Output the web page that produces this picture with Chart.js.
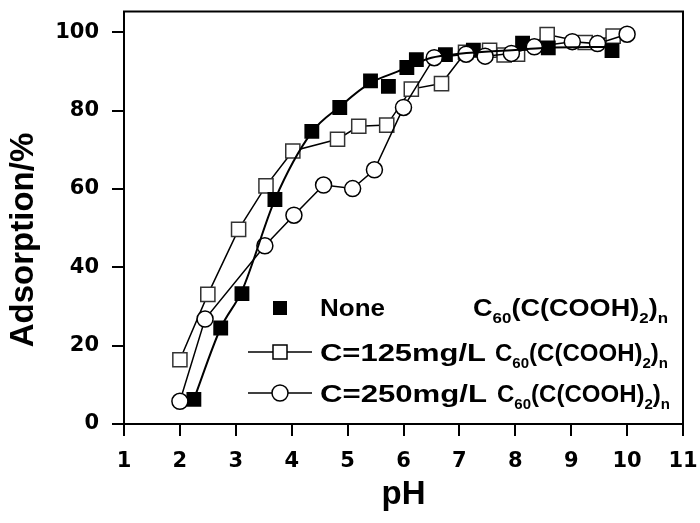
<!DOCTYPE html>
<html>
<head>
<meta charset="utf-8">
<script src="https://cdn.jsdelivr.net/npm/chart.js@4/dist/chart.umd.min.js"></script>
<style>
html,body{margin:0;padding:0;background:#fff;}
#wrap{width:700px;height:523px;position:relative;}
</style>
</head>
<body>
<div id="wrap"><canvas id="c" width="700" height="523"></canvas></div>
<script>
// ---- data ----
const phNone  = [2.25, 2.73, 3.11, 3.70, 4.36, 4.86, 5.41, 5.73, 6.06, 6.23, 6.75, 7.25, 8.13, 8.59, 9.73];
const adsNone = [6.3, 24.5, 33.3, 57.3, 74.7, 80.8, 87.6, 86.2, 91.0, 93.0, 94.3, 95.4, 97.2, 96.0, 95.3];

const ph125  = [2.00, 2.50, 3.05, 3.54, 4.02, 4.82, 5.20, 5.70, 6.14, 6.68, 7.11, 7.54, 7.80, 8.04, 8.57, 9.25, 9.75];
const ads125 = [16.4, 33.1, 49.7, 60.8, 69.7, 72.7, 76.0, 76.3, 85.5, 86.9, 94.9, 95.4, 94.2, 94.4, 99.4, 97.4, 99.0];

const ph250  = [2.00, 2.45, 3.52, 4.04, 4.57, 5.09, 5.48, 6.00, 6.55, 7.12, 7.46, 7.93, 8.34, 9.02, 9.47, 10.00];
const ads250 = [5.8, 26.8, 45.5, 53.3, 61.0, 60.1, 64.9, 80.8, 93.5, 94.4, 93.9, 94.6, 96.3, 97.6, 97.1, 99.5];

// smooth fitted curve through the "None" points
const phFit  = [2.25, 2.73, 3.11, 3.70, 4.36, 4.86, 5.40, 5.90, 6.50, 7.00, 8.00, 8.50, 9.73];
const adsFit = [6.3, 24.5, 34.0, 57.3, 74.5, 81.0, 87.0, 90.0, 93.5, 94.5, 95.5, 96.0, 96.3];

const xTicks = [1, 2, 3, 4, 5, 6, 7, 8, 9, 10, 11];
const yTicks = [0, 20, 40, 60, 80, 100];

const xTitle = 'pH';
const yTitle = 'Adsorption/%';
const legendLabels = ['None', 'C=125mg/L', 'C=250mg/L'];
// [text, isSubscript]
const formulaParts = [['C', 0], ['60', 1], ['(C(COOH)', 0], ['2', 1], [')', 0], ['n', 1]];

const toXY = (xs, ys) => xs.map((x, i) => ({ x: x, y: ys[i] }));

// ---- plugins ----
const framePlugin = {
  id: 'frame',
  afterDatasetsDraw(chart) {
    const { ctx, chartArea: a } = chart;
    ctx.save();
    ctx.strokeStyle = '#000';
    ctx.lineWidth = 2;
    ctx.strokeRect(a.left, a.top, a.right - a.left, a.bottom - a.top);
    ctx.restore();
  }
};

const yTitlePlugin = {
  id: 'yTitle',
  afterDraw(chart) {
    const ctx = chart.ctx;
    ctx.save();
    ctx.translate(33, 240);
    ctx.rotate(-Math.PI / 2);
    ctx.font = 'bold 33px "Liberation Sans", Arial, sans-serif';
    ctx.fillStyle = '#000';
    ctx.textAlign = 'center';
    ctx.textBaseline = 'alphabetic';
    ctx.fillText(yTitle, 0, 0);
    ctx.restore();
  }
};

const legendPlugin = {
  id: 'customLegend',
  afterDraw(chart) {
    const ctx = chart.ctx;
    const mainFont = 'bold 24px "Liberation Sans", Arial, sans-serif';
    const subFont = 'bold 15px "Liberation Sans", Arial, sans-serif';
    ctx.save();
    ctx.fillStyle = '#000';
    ctx.strokeStyle = '#000';
    ctx.textBaseline = 'alphabetic';
    ctx.textAlign = 'left';

    function drawParts(parts, x, base, targetW) {
      let w = 0;
      parts.forEach(p => { ctx.font = p[1] ? subFont : mainFont; w += ctx.measureText(p[0]).width; });
      const sx = targetW / w;
      ctx.save();
      ctx.translate(x, base);
      ctx.scale(sx, 1);
      let cx = 0;
      parts.forEach(p => {
        ctx.font = p[1] ? subFont : mainFont;
        ctx.fillText(p[0], cx, p[1] ? 7 : 0);
        cx += ctx.measureText(p[0]).width;
      });
      ctx.restore();
    }

    // row 1: filled square, no line
    ctx.fillRect(273, 301, 14, 14);
    // row 2: line + open square
    ctx.lineWidth = 1.5;
    ctx.beginPath(); ctx.moveTo(248, 352); ctx.lineTo(312, 352); ctx.stroke();
    ctx.fillStyle = '#fff';
    ctx.fillRect(273, 345, 14, 14);
    ctx.strokeRect(273, 345, 14, 14);
    // row 3: line + open circle
    ctx.beginPath(); ctx.moveTo(248, 393); ctx.lineTo(312, 393); ctx.stroke();
    ctx.beginPath(); ctx.arc(280, 393, 8, 0, Math.PI * 2); ctx.fill(); ctx.stroke();
    ctx.fillStyle = '#000';

    drawParts([[legendLabels[0], 0]], 320, 316, 65);
    drawParts(formulaParts, 473, 316, 195);
    drawParts([[legendLabels[1], 0]], 320, 361, 166);
    drawParts(formulaParts, 495, 361, 173);
    drawParts([[legendLabels[2], 0]], 320, 402, 167);
    drawParts(formulaParts, 497, 402, 173);
    ctx.restore();
  }
};

// ---- chart ----
const tickFont = { family: '"DejaVu Sans", sans-serif', weight: 'bold', size: 21 };

new Chart(document.getElementById('c'), {
  type: 'scatter',
  data: {
    datasets: [
      {
        label: 'fit',
        data: toXY(phFit, adsFit),
        showLine: true,
        borderColor: '#000',
        borderWidth: 2,
        pointRadius: 0,
        cubicInterpolationMode: 'monotone',
        fill: false
      },
      {
        label: legendLabels[2],
        data: toXY(ph250, ads250),
        showLine: true,
        borderColor: '#000',
        borderWidth: 1.5,
        pointStyle: 'circle',
        pointRadius: 8,
        pointBackgroundColor: '#fff',
        pointBorderColor: '#000',
        pointBorderWidth: 1.5,
        tension: 0
      },
      {
        label: legendLabels[0],
        data: toXY(phNone, adsNone),
        showLine: false,
        pointStyle: 'rect',
        pointRadius: 10.5,
        pointBackgroundColor: '#000',
        pointBorderColor: '#000',
        pointBorderWidth: 0
      },
      {
        label: legendLabels[1],
        data: toXY(ph125, ads125),
        showLine: true,
        borderColor: '#000',
        borderWidth: 1.5,
        pointStyle: 'rect',
        pointRadius: 10,
        pointBackgroundColor: '#fff',
        pointBorderColor: '#333',
        pointBorderWidth: 1.5,
        tension: 0
      }
    ]
  },
  options: {
    responsive: false,
    animation: false,
    devicePixelRatio: 1,
    layout: { padding: { top: 7, right: 17, left: 0, bottom: 0 } },
    plugins: { legend: { display: false }, tooltip: { enabled: false } },
    scales: {
      x: {
        type: 'linear',
        min: 1,
        max: 11,
        afterBuildTicks: s => { s.ticks = xTicks.map(v => ({ value: v })); },
        afterFit: s => { s.height = 99; s.paddingLeft = 0; s.paddingRight = 0; },
        grid: { display: true, drawOnChartArea: false, drawTicks: true, tickLength: 12, color: '#000', lineWidth: 2 },
        border: { display: true, color: '#000', width: 2 },
        ticks: { font: tickFont, color: '#000', padding: 13, maxRotation: 0, autoSkip: false },
        title: { display: true, text: xTitle, color: '#000', font: { family: '"Liberation Sans", Arial, sans-serif', weight: 'bold', size: 33 }, padding: { top: 0, bottom: 8 } }
      },
      y: {
        type: 'linear',
        min: 0,
        max: 105.3,
        afterBuildTicks: s => { s.ticks = yTicks.map(v => ({ value: v })); },
        afterFit: s => { s.width = 124; s.paddingTop = 0; s.paddingBottom = 0; },
        grid: { display: true, drawOnChartArea: false, drawTicks: true, tickLength: 12, color: '#000', lineWidth: 2 },
        border: { display: true, color: '#000', width: 2 },
        ticks: { font: tickFont, color: '#000', padding: 13 }
      }
    }
  },
  plugins: [framePlugin, yTitlePlugin, legendPlugin]
});
</script>
</body>
</html>
